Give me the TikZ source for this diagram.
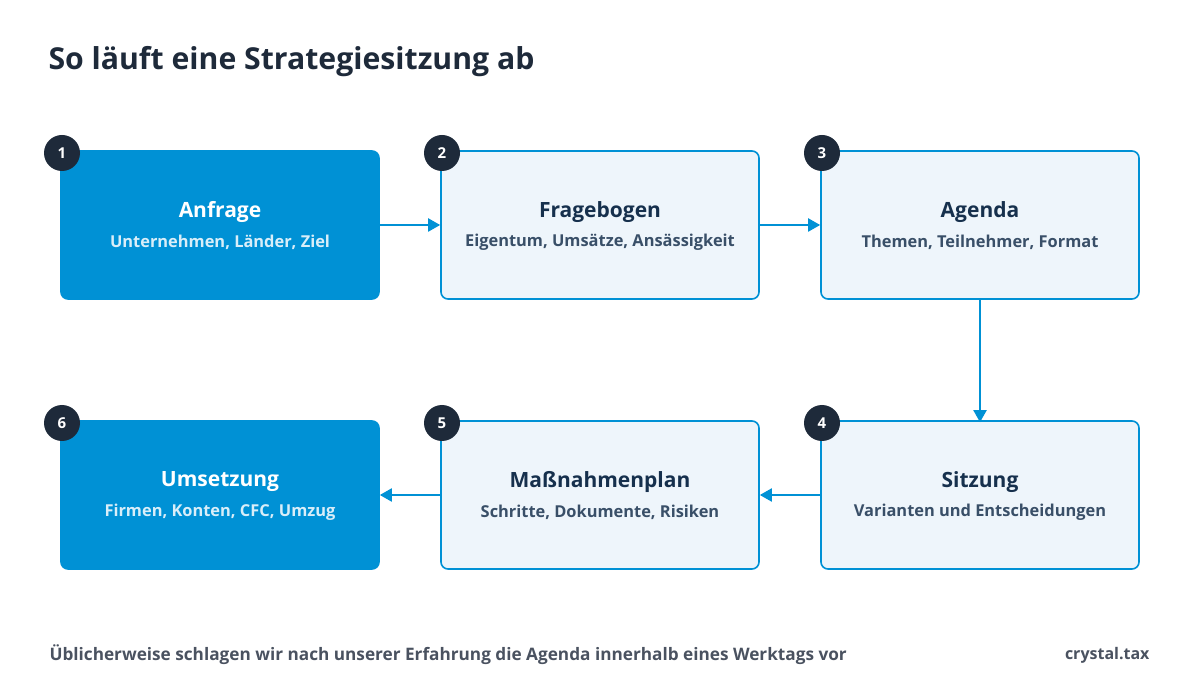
\documentclass[tikz,border=0pt]{standalone}
\usepackage{fontspec}
\setmainfont{Open Sans}
\usetikzlibrary{arrows.meta}
\definecolor{blu}{HTML}{0091D5}
\definecolor{lite}{HTML}{EEF5FB}
\definecolor{dark}{HTML}{1E2A3A}
\definecolor{navy}{HTML}{16304D}
\definecolor{gry}{HTML}{4A5260}
\begin{document}
\begin{tikzpicture}[x=1pt,y=-1pt,
 box/.style={rounded corners=7pt,line width=1.6pt,minimum width=318pt,minimum height=148pt,draw=blu},
 solid/.style={box,fill=blu},
 light/.style={box,fill=lite},
 num/.style={circle,fill=dark,text=white,minimum size=36pt,inner sep=0pt,font=\bfseries\fontsize{15}{18}\selectfont},
 arr/.style={-{Triangle[length=12pt,width=13pt]},line width=2pt,draw=blu}]
\useasboundingbox (0,0) rectangle (1200,700);
\fill[white] (0,0) rectangle (1200,700);
\node[anchor=west,text=dark,font=\bfseries\fontsize{30.2}{34}\selectfont] (t) at (45,62) {So läuft eine Strategiesitzung ab};
\def\mk#1#2#3#4#5#6{%
 \node[#2] (b#1) at (#3,#4) {};
 \node[font=\bfseries\fontsize{21}{24}\selectfont,text=#5] (h#1) at (#3,#4-13) {#6};}
\mk{1}{solid}{220}{225}{white}{Anfrage}
\mk{2}{light}{600}{225}{navy}{Fragebogen}
\mk{3}{light}{980}{225}{navy}{Agenda}
\mk{4}{light}{980}{495}{navy}{Sitzung}
\mk{5}{light}{600}{495}{navy}{Maßnahmenplan}
\mk{6}{solid}{220}{495}{white}{Umsetzung}
\tikzset{sub/.style={font=\bfseries\fontsize{16.4}{19}\selectfont}}
\node[sub,text=white!85!blu] (s1) at (220,242) {Unternehmen, Länder, Ziel};
\node[sub,text=navy!85] (s2) at (600,242) {Eigentum, Umsätze, Ansässigkeit};
\node[sub,text=navy!85] (s3) at (980,242) {Themen, Teilnehmer, Format};
\node[sub,text=navy!85] (s4) at (980,512) {Varianten und Entscheidungen};
\node[sub,text=navy!85] (s5) at (600,512) {Schritte, Dokumente, Risiken};
\node[sub,text=white!85!blu] (s6) at (220,512) {Firmen, Konten, CFC, Umzug};
\foreach \i/\x/\y in {1/62/153,2/442/153,3/822/153,4/822/423,5/442/423,6/62/423}
 \node[num] (n\i) at (\x,\y) {\i};
\draw[arr] (b1.east) -- (b2.west);
\draw[arr] (b2.east) -- (b3.west);
\draw[arr] (b3.south) -- ([yshift=-2pt]b4.north);
\draw[arr] (b4.west) -- (b5.east);
\draw[arr] (b5.west) -- (b6.east);
\node[anchor=west,text=gry,font=\bfseries\fontsize{17.2}{20}\selectfont] (f) at (46,655) {Üblicherweise schlagen wir nach unserer Erfahrung die Agenda innerhalb eines Werktags vor};
\node[anchor=east,text=gry,font=\bfseries\fontsize{16}{20}\selectfont] (c) at (1153,655) {crystal.tax};
\end{tikzpicture}
\end{document}
